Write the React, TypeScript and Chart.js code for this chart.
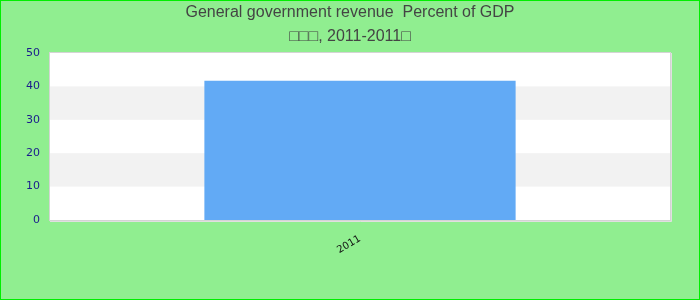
import React, { useEffect, useRef } from "react";
import { Chart, registerables } from "chart.js";

Chart.register(...registerables);

const categories = ["2011"];
const revenueValues = [41.7];
const yTicks = [0, 10, 20, 30, 40, 50];
const titleLines = ["General government revenue  Percent of GDP", "\u25A1\u25A1\u25A1, 2011-2011\u25A1"];

const bandsPlugin = {
  id: "bands",
  beforeDatasetsDraw(chart: any) {
    const { ctx, chartArea } = chart;
    const y = chart.scales.y;
    ctx.save();
    ctx.fillStyle = "#ffffff";
    ctx.fillRect(chartArea.left, chartArea.top, chartArea.right - chartArea.left, chartArea.bottom - chartArea.top);
    for (let i = 0; i < yTicks.length - 1; i++) {
      if (i % 2 === 1) {
        const y0 = y.getPixelForValue(yTicks[i]);
        const y1 = y.getPixelForValue(yTicks[i + 1]);
        ctx.fillStyle = "#f2f2f2";
        ctx.fillRect(chartArea.left, y1, chartArea.right - chartArea.left, y0 - y1);
      }
    }
    ctx.restore();
  },
  afterDatasetsDraw(chart: any) {
    const { ctx, chartArea } = chart;
    ctx.save();
    ctx.strokeStyle = "#d4d4d4";
    ctx.lineWidth = 1;
    ctx.strokeRect(chartArea.left - 0.5, chartArea.top - 0.5, chartArea.right - chartArea.left + 1, chartArea.bottom - chartArea.top + 1);
    ctx.beginPath();
    ctx.moveTo(chartArea.right + 1.5, chartArea.top);
    ctx.lineTo(chartArea.right + 1.5, chartArea.bottom + 1.5);
    ctx.lineTo(chartArea.left, chartArea.bottom + 1.5);
    ctx.strokeStyle = "#e0e0e0";
    ctx.stroke();
    ctx.restore();
  },
};

export default function App() {
  const ref = useRef<HTMLCanvasElement | null>(null);
  useEffect(() => {
    if (!ref.current) return;
    const chart = new Chart(ref.current, {
      type: "bar",
      data: {
        labels: categories,
        datasets: [
          {
            data: revenueValues,
            backgroundColor: "#62aaf5",
            borderWidth: 0,
            categoryPercentage: 1,
            barPercentage: 0.502,
          },
        ],
      },
      options: {
        animation: false,
        responsive: false,
        maintainAspectRatio: false,
        layout: { padding: 0 },
        plugins: {
          legend: { display: false },
          tooltip: { enabled: false },
          title: {
            display: true,
            text: titleLines,
            color: "#444444",
            font: { family: "Liberation Sans", size: 16, weight: "normal", lineHeight: 1.5 },
            padding: { top: 0, bottom: 4 },
          },
        },
        scales: {
          x: {
            grid: { display: false, drawTicks: false },
            border: { display: false },
            ticks: {
              color: "#111111",
              font: { family: "DejaVu Sans", size: 10 },
              minRotation: 30,
              maxRotation: 30,
              padding: 13,
            },
            afterFit(scale: any) {
              scale.height = 79;
            },
          },
          y: {
            min: 0,
            max: 50,
            grid: { display: false, drawTicks: false },
            border: { display: false },
            ticks: {
              stepSize: 10,
              color: "#1a1a8c",
              font: { family: "DejaVu Sans", size: 11 },
              padding: 10,
            },
            afterFit(scale: any) {
              scale.width = 49;
            },
          },
          spacer: {
            type: "linear",
            position: "right",
            display: true,
            grid: { display: false, drawTicks: false },
            border: { display: false },
            ticks: { display: false },
            afterFit(scale: any) {
              scale.width = 29;
            },
          },
        },
      },
      plugins: [bandsPlugin],
    });
    return () => chart.destroy();
  }, []);
  return (
    <div
      style={{
        position: "fixed",
        left: 0,
        top: 0,
        width: 700,
        height: 300,
        boxSizing: "border-box",
        border: "1px solid #00ee00",
        background: "#90ee90",
      }}
    >
      <canvas ref={ref} width={698} height={298} style={{ display: "block" }} />
    </div>
  );
}
